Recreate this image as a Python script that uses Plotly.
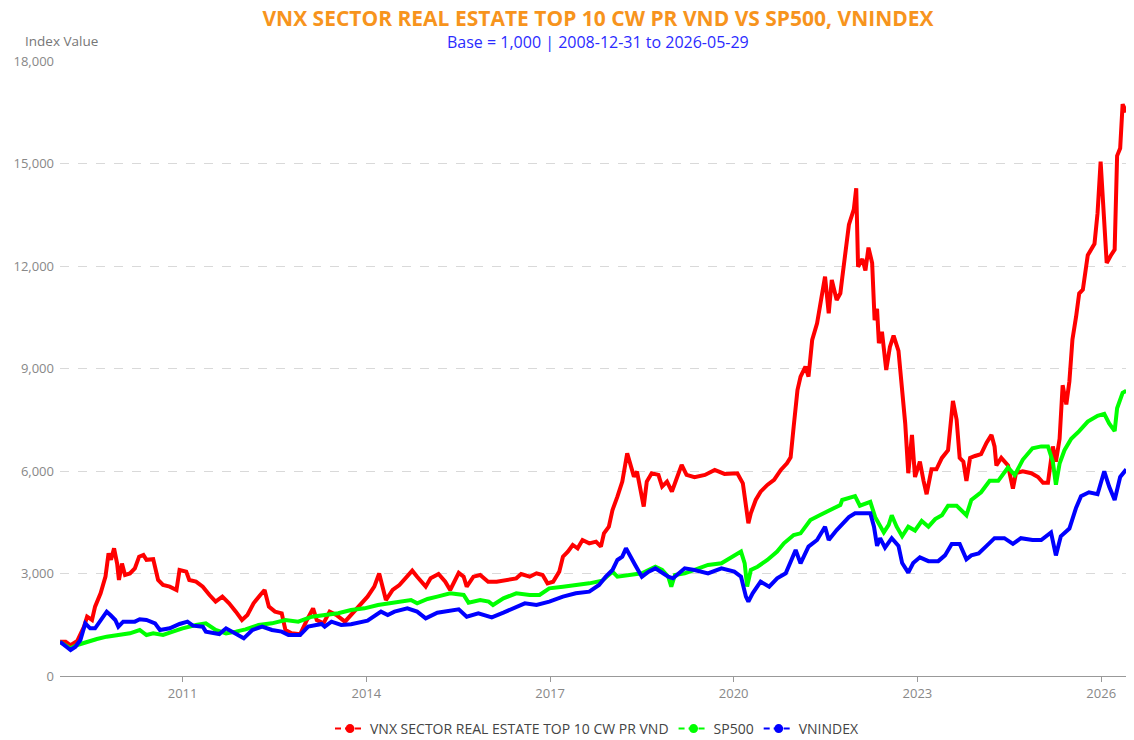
import pandas as pd
import plotly.graph_objects as go

# ---- data (decimal year, index value) ----
red_t = [2008.999, 2009.09, 2009.17, 2009.28, 2009.39, 2009.44, 2009.52, 2009.57, 2009.66, 2009.74,
         2009.79, 2009.83, 2009.88, 2009.93, 2009.96, 2010.01, 2010.06, 2010.14, 2010.22, 2010.29,
         2010.36, 2010.41, 2010.52, 2010.6, 2010.68, 2010.79, 2010.9, 2010.95, 2011.06, 2011.11,
         2011.22, 2011.33, 2011.44, 2011.54, 2011.65, 2011.76, 2011.87, 2011.97, 2012.06, 2012.16,
         2012.27, 2012.34, 2012.41, 2012.51, 2012.62, 2012.68, 2012.78, 2012.92, 2013.03, 2013.13,
         2013.19, 2013.3, 2013.4, 2013.51, 2013.65, 2013.78, 2013.92, 2014.02, 2014.13, 2014.21,
         2014.32, 2014.43, 2014.54, 2014.64, 2014.75, 2014.83, 2014.97, 2015.05, 2015.18, 2015.29,
         2015.37, 2015.51, 2015.59, 2015.64, 2015.75, 2015.86, 2015.99, 2016.13, 2016.29, 2016.45,
         2016.53, 2016.67, 2016.78, 2016.88, 2016.96, 2017.05, 2017.15, 2017.21, 2017.29, 2017.37,
         2017.45, 2017.53, 2017.64, 2017.75, 2017.83, 2017.88, 2017.96, 2018.02, 2018.1, 2018.18,
         2018.26, 2018.31, 2018.37, 2018.42, 2018.47, 2018.53, 2018.58, 2018.66, 2018.77, 2018.83,
         2018.91, 2018.99, 2019.07, 2019.15, 2019.23, 2019.36, 2019.53, 2019.69, 2019.85, 2019.96,
         2020.06, 2020.15, 2020.2, 2020.24, 2020.28, 2020.36, 2020.44, 2020.55, 2020.66, 2020.77,
         2020.87, 2020.93, 2020.98, 2021.04, 2021.09, 2021.17, 2021.22, 2021.28, 2021.36, 2021.41,
         2021.49, 2021.55, 2021.6, 2021.68, 2021.74, 2021.77, 2021.82, 2021.88, 2021.96, 2022.0,
         2022.03, 2022.1, 2022.15, 2022.2, 2022.26, 2022.3, 2022.34, 2022.37, 2022.42, 2022.49,
         2022.55, 2022.61, 2022.69, 2022.75, 2022.8, 2022.85, 2022.91, 2022.96, 2023.04, 2023.1,
         2023.15, 2023.23, 2023.31, 2023.4, 2023.5, 2023.58, 2023.64, 2023.69, 2023.75, 2023.8,
         2023.86, 2023.94, 2024.04, 2024.13, 2024.21, 2024.26, 2024.29, 2024.37, 2024.48, 2024.56,
         2024.61, 2024.72, 2024.86, 2024.97, 2025.05, 2025.13, 2025.21, 2025.26, 2025.32, 2025.37,
         2025.43, 2025.48, 2025.53, 2025.59, 2025.64, 2025.7, 2025.78, 2025.89, 2025.94, 2025.99,
         2026.05, 2026.09, 2026.16, 2026.22, 2026.26, 2026.31, 2026.35, 2026.41]
red_v = [1000, 1005, 900, 1030, 1445, 1737, 1640, 2030, 2420, 2907,
         3590, 3400, 3737, 3290, 2810, 3290, 2956, 3000, 3151, 3493,
         3542, 3400, 3420, 2810, 2663, 2615, 2517, 3103, 3054, 2810,
         2762, 2615, 2371, 2176, 2322, 2127, 1883, 1639, 1785, 2127,
         2371, 2517, 2030, 1883, 1835, 1346, 1249, 1220, 1639, 1980,
         1639, 1542, 1883, 1785, 1590, 1835, 2127, 2322, 2615, 3000,
         2224, 2517, 2663, 2858, 3083, 2907, 2615, 2858, 2985, 2760,
         2517, 3020, 2907, 2615, 2907, 2956, 2760, 2760, 2810, 2858,
         2985, 2907, 3005, 2956, 2712, 2760, 3054, 3493, 3640, 3835,
         3737, 3980, 3883, 3932, 3786, 4176, 4371, 4860, 5250, 5690,
         6520, 6178, 5836, 5983, 5544, 4958, 5690, 5934, 5885, 5544,
         5690, 5396, 5788, 6178, 5885, 5817, 5885, 6032, 5915, 5934,
         5934, 5641, 5055, 4469, 4762, 5153, 5396, 5592, 5738, 6032,
         6227, 6400, 7298, 8372, 8762, 9055, 8762, 9835, 10323, 10908,
         11689, 10616, 11591, 11006, 11201, 11643, 12426, 13210, 13657, 14273,
         11978, 12202, 11867, 12538, 12090, 10412, 10748, 9741, 10076, 8957,
         9629, 9965, 9517, 8286, 7391, 5936, 7055, 5824, 6272, 5712,
         5321, 6048, 6048, 6384, 6608, 8050, 7503, 6384, 6272, 5712,
         6384, 6440, 6496, 6831, 7055, 6720, 6160, 6384, 6160, 5488,
         5936, 5992, 5936, 5824, 5656, 5656, 6720, 6272, 6943, 8510,
         7950, 8622, 9853, 10524, 11195, 11307, 12314, 12650, 13545, 15056,
         13210, 12090, 12314, 12482, 15224, 15448, 16735, 16500]

green_t = [2008.999, 2009.17, 2009.28, 2009.44, 2009.6, 2009.76, 2009.98, 2010.14, 2010.3, 2010.41,
           2010.52, 2010.68, 2010.84, 2011.0, 2011.22, 2011.38, 2011.54, 2011.71, 2011.87, 2012.03,
           2012.24, 2012.46, 2012.68, 2012.89, 2013.11, 2013.32, 2013.54, 2013.75, 2013.97, 2014.19,
           2014.4, 2014.62, 2014.73, 2014.83, 2015.0, 2015.16, 2015.37, 2015.59, 2015.67, 2015.86,
           2016.0, 2016.07, 2016.24, 2016.45, 2016.67, 2016.83, 2016.99, 2017.21, 2017.42, 2017.64,
           2017.85, 2018.02, 2018.1, 2018.35, 2018.5, 2018.72, 2018.83, 2018.93, 2018.98, 2019.04,
           2019.2, 2019.36, 2019.58, 2019.8, 2020.01, 2020.12, 2020.18, 2020.22, 2020.28, 2020.39,
           2020.55, 2020.71, 2020.82, 2020.98, 2021.09, 2021.25, 2021.41, 2021.57, 2021.74, 2021.77,
           2021.88, 2021.98, 2022.06, 2022.15, 2022.23, 2022.31, 2022.39, 2022.45, 2022.53, 2022.58,
           2022.66, 2022.75, 2022.85, 2022.96, 2023.07, 2023.18, 2023.29, 2023.4, 2023.5, 2023.64,
           2023.8, 2023.88, 2024.04, 2024.18, 2024.32, 2024.48, 2024.59, 2024.72, 2024.88, 2025.02,
           2025.13, 2025.21, 2025.26, 2025.32, 2025.4, 2025.51, 2025.64, 2025.78, 2025.94, 2026.05,
           2026.13, 2026.22, 2026.26, 2026.35, 2026.41]
green_v = [1000, 810, 908, 1005, 1083, 1151, 1200, 1249, 1346, 1200,
           1249, 1200, 1298, 1395, 1493, 1542, 1346, 1249, 1298, 1366,
           1493, 1542, 1639, 1590, 1737, 1785, 1835, 1932, 1980, 2078,
           2127, 2176, 2224, 2127, 2253, 2322, 2420, 2371, 2146, 2224,
           2176, 2078, 2273, 2420, 2371, 2371, 2566, 2615, 2663, 2712,
           2790, 3054, 2907, 2956, 3005, 3200, 3103, 2907, 2615, 2956,
           3005, 3103, 3249, 3298, 3542, 3640, 3298, 2615, 3103, 3200,
           3396, 3640, 3883, 4127, 4176, 4567, 4713, 4860, 5006, 5152,
           5208, 5264, 4985, 5040, 5096, 4649, 4370, 4202, 4426, 4705,
           4370, 4090, 4370, 4258, 4537, 4370, 4593, 4705, 4985, 4985,
           4705, 5152, 5376, 5712, 5712, 6104, 5880, 6328, 6664, 6720,
           6720, 6272, 5600, 6216, 6608, 6943, 7167, 7447, 7615, 7670,
           7391, 7167, 7838, 8286, 8350]

blue_t = [2008.999, 2009.17, 2009.25, 2009.33, 2009.41, 2009.49, 2009.57, 2009.66, 2009.76, 2009.82,
          2009.9, 2009.95, 2010.03, 2010.22, 2010.3, 2010.41, 2010.55, 2010.63, 2010.79, 2010.95,
          2011.08, 2011.17, 2011.33, 2011.38, 2011.6, 2011.71, 2011.87, 2012.0, 2012.14, 2012.3,
          2012.46, 2012.62, 2012.73, 2012.92, 2013.05, 2013.16, 2013.27, 2013.32, 2013.43, 2013.59,
          2013.75, 2014.02, 2014.24, 2014.35, 2014.46, 2014.67, 2014.83, 2014.97, 2015.16, 2015.51,
          2015.64, 2015.83, 2016.05, 2016.24, 2016.4, 2016.59, 2016.78, 2016.99, 2017.21, 2017.42,
          2017.64, 2017.8, 2017.91, 2018.02, 2018.1, 2018.18, 2018.24, 2018.31, 2018.39, 2018.5,
          2018.61, 2018.72, 2018.83, 2018.93, 2019.01, 2019.2, 2019.36, 2019.58, 2019.8, 2020.01,
          2020.12, 2020.2, 2020.24, 2020.31, 2020.44, 2020.58, 2020.71, 2020.85, 2021.01, 2021.09,
          2021.22, 2021.36, 2021.49, 2021.55, 2021.68, 2021.77, 2021.88, 2021.98, 2022.1, 2022.23,
          2022.29, 2022.34, 2022.39, 2022.47, 2022.58, 2022.69, 2022.75, 2022.85, 2022.93, 2023.04,
          2023.18, 2023.34, 2023.45, 2023.56, 2023.69, 2023.8, 2023.88, 2024.0, 2024.13, 2024.26,
          2024.42, 2024.56, 2024.69, 2024.88, 2025.02, 2025.18, 2025.26, 2025.34, 2025.48, 2025.59,
          2025.67, 2025.8, 2025.94, 2026.05, 2026.13, 2026.22, 2026.31, 2026.41]
blue_v = [1000, 761, 858, 1054, 1542, 1395, 1395, 1639, 1883, 1785,
          1639, 1444, 1590, 1590, 1659, 1639, 1542, 1346, 1395, 1522,
          1590, 1473, 1444, 1298, 1229, 1395, 1249, 1102, 1346, 1444,
          1346, 1298, 1200, 1200, 1444, 1493, 1522, 1444, 1590, 1493,
          1513, 1620, 1883, 1785, 1883, 1980, 1883, 1688, 1854, 1951,
          1737, 1835, 1717, 1854, 1980, 2127, 2078, 2176, 2322, 2420,
          2468, 2663, 2907, 3103, 3396, 3493, 3737, 3493, 3249, 2907,
          3054, 3151, 3005, 2907, 2858, 3151, 3103, 3005, 3151, 3054,
          2907, 2322, 2176, 2420, 2760, 2615, 2858, 3005, 3688, 3298,
          3786, 3980, 4371, 3980, 4273, 4426, 4649, 4761, 4761, 4761,
          4370, 3810, 4034, 3754, 4034, 3810, 3306, 3026, 3306, 3474,
          3362, 3362, 3530, 3866, 3866, 3418, 3530, 3586, 3810, 4034,
          4034, 3866, 4034, 3978, 3978, 4202, 3530, 4090, 4314, 4929,
          5264, 5376, 5320, 5992, 5544, 5152, 5824, 6048]

series_names = ["VNX SECTOR REAL ESTATE TOP 10 CW PR VND", "SP500", "VNINDEX"]
series_colors = ["#FF0000", "#00FF00", "#0000FF"]
y_ticks = [0, 3000, 6000, 9000, 12000, 15000, 18000]
start_date, end_date = "2008-12-31", "2026-05-29"


def to_dates(ts):
    out = []
    for t in ts:
        yr = int(t)
        out.append(pd.Timestamp(f"{yr}-01-01") + pd.Timedelta(days=(t - yr) * 365.25))
    return out


FIG_W, FIG_H = 1134, 740
ML, MR, MT, PLOT_H = 52, 16, 53, 615
PLOT_W = FIG_W - ML - MR

fig = go.Figure()
for name, color, ts, vs in zip(series_names, series_colors,
                               [red_t, green_t, blue_t], [red_v, green_v, blue_v]):
    fig.add_trace(go.Scatter(x=to_dates(ts), y=vs, mode="lines", name=name,
                             line=dict(color=color, width=4), showlegend=False))
    fig.add_trace(go.Scatter(x=[None], y=[None], mode="lines+markers", name=name,
                             line=dict(color=color, width=2, dash="6px,4px"),
                             marker=dict(color=color, size=9), showlegend=True))

fig.update_layout(
    width=FIG_W, height=FIG_H,
    margin=dict(l=ML, r=MR, t=MT, b=FIG_H - MT - PLOT_H, autoexpand=False),
    paper_bgcolor="white", plot_bgcolor="white",
    font=dict(family="Open Sans, sans-serif", size=13, color="#777777"),
    title=dict(text="<b>VNX SECTOR REAL ESTATE TOP 10 CW PR VND VS SP500, VNINDEX</b>",
               x=0.5 + 5 / PLOT_W, xref="paper", xanchor="center",
               y=1 - 11 / FIG_H, yanchor="middle",
               font=dict(size=21, color="#F7941D")),
    showlegend=True,
    legend=dict(orientation="h", x=0.5 + 4 / PLOT_W, xanchor="center",
                yref="container", y=1 - 721 / FIG_H, yanchor="middle",
                font=dict(size=14, color="#444444"), itemwidth=30, tracegroupgap=0),
    xaxis=dict(type="date", range=[start_date, end_date], showgrid=False, automargin=False,
               tick0="2011-01-01", dtick="M36", tickformat="%Y",
               ticks="outside", ticklen=5, tickcolor="#999999",
               showline=True, linecolor="#999999", linewidth=1,
               tickfont=dict(size=13, color="#888888"), zeroline=False),
    yaxis=dict(range=[0, 18000], tickvals=y_ticks, tickformat=",", automargin=False,
               showgrid=True, gridcolor="#D9D9D9", griddash="dash", gridwidth=1,
               zeroline=False, showline=False, ticks="", ticklabelstandoff=5,
               tickfont=dict(size=13, color="#888888")),
    annotations=[
        dict(text="Base = 1,000 | 2008-12-31 to 2026-05-29", xref="paper", yref="paper",
             x=0.5, xshift=5, y=1.0, yshift=19, xanchor="center", yanchor="middle",
             showarrow=False, font=dict(size=16, color="#2B2BFF")),
        dict(text="Index Value", xref="paper", yref="paper", x=0, xshift=-37, y=1.0, yshift=20,
             xanchor="left", yanchor="middle", showarrow=False,
             font=dict(size=13.5, color="#777777")),
    ],
)

fig.write_html("out.html")
